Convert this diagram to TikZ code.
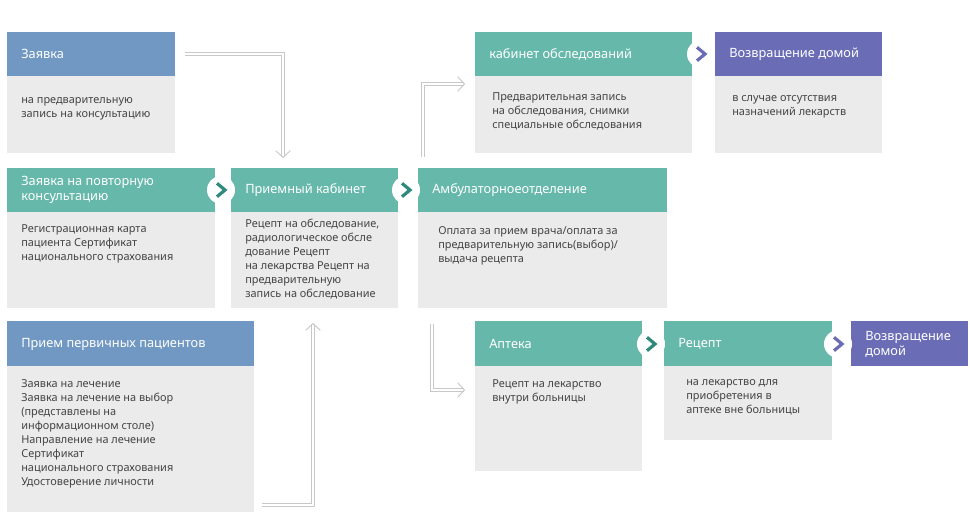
\documentclass[tikz,border=0pt]{standalone}
\usepackage{fontspec}
\setmainfont{Noto Sans}
\usetikzlibrary{arrows.meta}
\definecolor{tealhd}{HTML}{66B8AA}
\definecolor{tealdk}{HTML}{2E8A7C}
\definecolor{bluehd}{HTML}{7098C2}
\definecolor{purphd}{HTML}{6A6DB5}
\definecolor{bodygr}{HTML}{EBEBEB}
\definecolor{txtgr}{HTML}{444444}
\definecolor{linegr}{HTML}{C8C8C8}
\tikzset{
  hdtext/.style={anchor=west, text=white, font=\fontsize{9.6}{11}\selectfont, align=left, inner sep=0pt},
  bdtext/.style={anchor=north west, text=txtgr, font=\fontsize{8.2}{10.5}\selectfont, align=left, inner sep=0pt},
  flow/.style={draw=linegr, double=white, double distance=1.6pt, line width=0.7pt,
    -{Straight Barb[length=5pt, width=11pt]}},
  chevdot/.style={circle, fill=white, minimum size=21pt, inner sep=0pt}
}
% one card: x1, y1, x2, header bottom, body bottom, header colour
\newcommand{\card}[6]{%
  \fill[bodygr] (#1,#4) rectangle (#3,#5);
  \fill[#6] (#1,#2) rectangle (#3,#4);}
\newcommand{\chev}[4]{%
  \node[chevdot] (#1) at (#2,#3) {};
  \draw[#4, line width=2.4pt] ([xshift=-3pt, yshift=5pt]#1.center) -- ([xshift=3pt]#1.center) -- ([xshift=-3pt, yshift=-5pt]#1.center);}
\begin{document}
\begin{tikzpicture}[x=0.75pt, y=-0.75pt]
  \useasboundingbox (0,0) rectangle (970,520);

  % cards
  \card{7}{32}{175}{76}{153}{bluehd}
  \card{7}{168}{215}{212}{308}{tealhd}
  \card{231}{168}{398}{212}{308}{tealhd}
  \card{418}{168}{667}{212}{308}{tealhd}
  \card{475}{32}{692}{76}{153}{tealhd}
  \card{715}{32}{882}{76}{153}{purphd}
  \card{7}{321}{254}{366}{512}{bluehd}
  \card{475}{321}{642}{366}{471}{tealhd}
  \card{664}{321}{832}{366}{440}{tealhd}
  \fill[purphd] (851,321) rectangle (968,366);

  % headers
  \node[hdtext] (zayavka) at (21,54) {Заявка};
  \node[hdtext] (povtor) at (21,190) {Заявка на повторную\\консультацию};
  \node[hdtext] (priem) at (245,190) {Приемный кабинет};
  \node[hdtext] (ambul) at (432,190) {Амбулаторноеотделение};
  \node[hdtext] (kabinet) at (489,54) {кабинет обследований};
  \node[hdtext] (domoj) at (729,54) {Возвращение домой};
  \node[hdtext] (pervich) at (21,344) {Прием первичных пациентов};
  \node[hdtext] (apteka) at (489,344) {Аптека};
  \node[hdtext] (recept) at (678,344) {Рецепт};
  \node[hdtext] (domojb) at (865,344) {Возвращение\\домой};

  % bodies
  \node[bdtext] at (21,97) {на предварительную\\запись на консультацию};
  \node[bdtext] at (21,224) {Регистрационная карта\\пациента Сертификат\\национального страхования};
  \node[bdtext] at (245,219) {Рецепт на обследование,\\радиологическое обсле\\дование Рецепт\\на лекарства Рецепт на\\предварительную\\запись на обследование};
  \node[bdtext] at (438,226) {Оплата за прием врача/оплата за\\предварительную запись(выбор)/\\выдача рецепта};
  \node[bdtext] at (492,92) {Предварительная запись\\на обследования, снимки\\специальные обследования};
  \node[bdtext] at (732,95) {в случае отсутствия\\назначений лекарств};
  \node[bdtext] at (21,379) {Заявка на лечение\\Заявка на лечение на выбор\\(представлены на\\информационном столе)\\Направление на лечение\\Сертификат\\национального страхования\\Удостоверение личности};
  \node[bdtext] at (492,379) {Рецепт на лекарство\\внутри больницы};
  \node[bdtext] at (686,379) {на лекарство для\\приобретения в\\аптеке вне больницы};

  % chevrons
  \chev{c1}{221}{190}{tealdk}
  \chev{c2}{406}{190}{tealdk}
  \chev{c3}{701}{54}{purphd}
  \chev{c4}{651}{344}{tealdk}
  \chev{c5}{838}{344}{purphd}

  % connectors
  \coordinate (a1) at (185,54);
  \coordinate (a2) at (283,158);
  \coordinate (b1) at (423,157);
  \coordinate (b2) at (465,84);
  \coordinate (d1) at (262,505);
  \coordinate (d2) at (313,323);
  \coordinate (e1) at (432,324);
  \coordinate (e2) at (465,390);
  \draw[flow] (a1) -| (a2);
  \draw[flow] (b1) |- (b2);
  \draw[flow] (d1) -| (d2);
  \draw[flow] (e1) |- (e2);
\end{tikzpicture}
\end{document}
